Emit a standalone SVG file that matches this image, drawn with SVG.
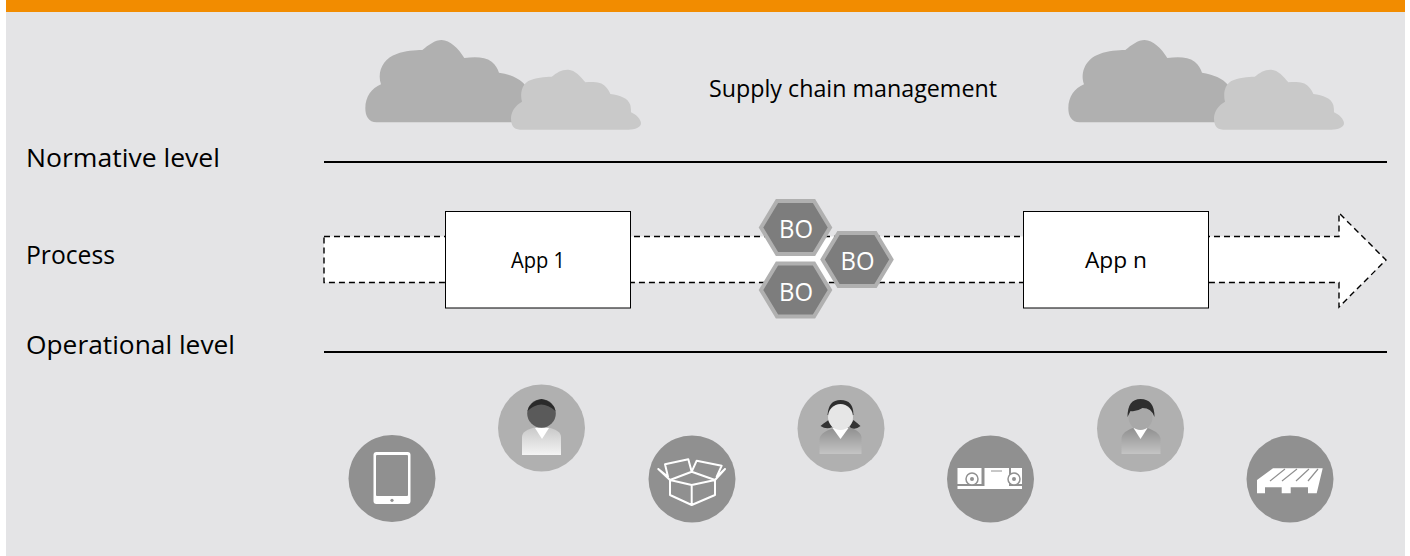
<svg xmlns="http://www.w3.org/2000/svg" xmlns:xlink="http://www.w3.org/1999/xlink" width="1410" height="556" viewBox="0 0 1410 556">
<defs>
<style>
text{font-family:"Open Sans","Noto Sans","Liberation Sans",sans-serif;fill:#000}
.lbl{font-size:26px}
.app{font-size:22px;text-anchor:middle}
.bo{font-size:26px;fill:#fff;text-anchor:middle}
.rule{stroke:#000;stroke-width:2;fill:none}
.hex{fill:#7d7d7d;stroke:#b0b0b0;stroke-width:4;stroke-linejoin:miter}
.box{fill:#fff;stroke:#000;stroke-width:1}
.dk{fill:#909090}
.lt{fill:#b0b0b0}
.ic{fill:none;stroke:#fff;stroke-width:2;stroke-linejoin:round}
</style>
<g id="cloud" transform="translate(350 30) scale(.33333)">
<path fill="#b0b0b0" d="M80 277C55 277 46 258 46 235C46 200 65 175 93 163C80 125 100 85 140 72C165 62 195 60 217 60C235 45 255 30 275 30C300 30 325 55 343 84C375 80 405 80 425 95C437 105 443 115 447 128C480 133 510 145 525 165L525 277Z"/>
<path fill="#c9c9c9" d="M510 299C490 299 483 285 483 265C483 245 497 225 516 215C510 190 515 165 535 153C555 143 585 140 605 140C620 128 635 118 655 119C675 120 692 140 706 157C735 155 755 157 767 170C775 178 778 185 781 192C810 195 835 205 841 225C843 235 843 240 843 247C858 253 873 268 873 280C873 292 855 299 835 299Z"/>
</g>
<path id="hexa" class="hex" d="M-34.500 0L-18.500-26.500H18.500L34.500 0L18.500 26.500H-18.500Z"/>
<linearGradient id="body" x1="0" y1="0" x2="0" y2="1"><stop offset="0" stop-color="#c8c8c8"/><stop offset="1" stop-color="#f4f4f4"/></linearGradient>
<linearGradient id="body2" x1="0" y1="0" x2="0" y2="1"><stop offset="0" stop-color="#8e8e8e"/><stop offset="1" stop-color="#c4c4c4"/></linearGradient>
</defs>
<rect width="1410" height="556" fill="#fff"/>
<rect x="6" y="0" width="1399" height="556" fill="#e4e4e6"/>
<rect x="6" y="0" width="1399" height="12" fill="#f28c00"/>
<g id="clouds"><use xlink:href="#cloud"/><use xlink:href="#cloud" x="703"/></g>
<g id="labels">
<text class="lbl" x="26" y="167" textLength="194" lengthAdjust="spacingAndGlyphs">Normative level</text>
<text class="lbl" x="26" y="264" textLength="89" lengthAdjust="spacingAndGlyphs">Process</text>
<text class="lbl" x="26" y="354" textLength="209" lengthAdjust="spacingAndGlyphs">Operational level</text>
<text x="709" y="97" font-size="23.300" textLength="288" lengthAdjust="spacingAndGlyphs">Supply chain management</text>
</g>
<g id="connectors">
<path class="rule" d="M324 162H1387"/>
<path class="rule" d="M324 352H1387"/>
</g>
<g id="process-arrow"><path d="M324 236.500H1339V213L1386 260L1339 307V282.500H324Z" fill="#fff" stroke="#000" stroke-width="1.400" stroke-dasharray="6 4"/></g>
<g id="app-1"><rect class="box" x="445.500" y="211.500" width="185" height="96.500"/><text class="app" x="538" y="268" textLength="54" lengthAdjust="spacingAndGlyphs">App 1</text></g>
<g id="app-n"><rect class="box" x="1023.500" y="211.500" width="185" height="96.500"/><text class="app" x="1116" y="268" textLength="62" lengthAdjust="spacingAndGlyphs">App n</text></g>
<g id="bo-1"><use xlink:href="#hexa" x="795.500" y="227.500"/><text class="bo" x="796" y="238" textLength="34" lengthAdjust="spacingAndGlyphs">BO</text></g>
<g id="bo-2"><use xlink:href="#hexa" x="857" y="259.500"/><text class="bo" x="857.500" y="269.500" textLength="34" lengthAdjust="spacingAndGlyphs">BO</text></g>
<g id="bo-3"><use xlink:href="#hexa" x="795.500" y="290"/><text class="bo" x="796" y="300.500" textLength="34" lengthAdjust="spacingAndGlyphs">BO</text></g>
<g id="tablet"><circle class="dk" cx="392" cy="478.500" r="43.500"/><rect x="373.500" y="452" width="37" height="52" rx="3" fill="#fff"/><rect x="376" y="455" width="32" height="41" rx="1" fill="#909090"/><circle cx="392" cy="500.300" r="1.600" fill="#909090"/></g>
<g id="person-1"><circle class="lt" cx="541.500" cy="428" r="43.500"/><path d="M522 455V437Q522 430 537 427H546Q561 430 561 437V455Z" fill="url(#body)"/><path d="M535 428H549L542 439Z" fill="#fff"/><circle cx="541.500" cy="413.500" r="14.300" fill="#5a5a5a"/><path d="M527.500 411Q541 398 555.500 411Q553 401 541.500 399Q530 401 527.500 411Z" fill="#2a2a2a"/></g>
<g id="box"><circle class="dk" cx="692" cy="479" r="43.500"/><path class="ic" d="M670 480V495L691.700 505L715 495V480M670 480L691.700 485L715 480L691.700 471.700ZM691.700 485V505M670 480L658.300 469L668 476.700L665 464.300L688.300 459.300L691.700 471.700L696.700 460.700L721.700 465.700L716.700 476.700L725 469L715 480"/></g>
<g id="person-2"><circle class="lt" cx="841" cy="428.500" r="43.500"/><g transform="translate(2.500 0)"><path d="M817 454V439Q818 431 836 427H845Q860 431 859 439V454Z" fill="url(#body2)"/><path d="M830 428H846L838 439Z" fill="#fff"/><path d="M826 420Q820 424 818 426Q824 430 830 427ZM851 420Q856 424 858 426Q852 431 847 427Z" fill="#333"/><path d="M825 415Q826 400 838 400Q851 400 851 415Z" fill="#2e2e2e"/><ellipse cx="838" cy="417" rx="12.500" ry="13" fill="#e6e6e6"/></g></g>
<g id="rollers"><circle class="dk" cx="990.500" cy="479" r="43.500"/><path fill="#fff" d="M957.500 468H981.500V484H957.500ZM984.500 468H1009V486H984.500ZM1011 468H1022V484H1011ZM957.500 486H1022V489H957.500Z"/><circle cx="972" cy="479" r="6" fill="#fff" stroke="#909090" stroke-width="1.500"/><circle cx="972" cy="479" r="2" fill="#909090"/><circle cx="1014" cy="479" r="6" fill="#fff" stroke="#909090" stroke-width="1.500"/><circle cx="1014" cy="479" r="2" fill="#909090"/><path d="M991 471H1002" stroke="#909090"/></g>
<g id="person-3"><circle class="lt" cx="1140.500" cy="428.500" r="43.500"/><g transform="translate(11.500 0)"><path d="M1110 454V438Q1111 431 1124 427H1133Q1147 431 1149 438V454Z" fill="url(#body2)"/><path d="M1122 428H1136L1129 439Z" fill="#fff"/><ellipse cx="1129" cy="417" rx="12" ry="13" fill="#a8a8a8"/><path d="M1116 417Q1116 399 1129 399Q1143 399 1143 417Q1140 408 1131 408Q1125 412 1119 411Z" fill="#2e2e2e"/></g></g>
<g id="pallet"><circle class="dk" cx="1290" cy="479" r="43.500"/><path fill="#fff" d="M1257 480L1273 468.300H1322.700L1316.700 493.300H1308V487.300H1290.700V493.300H1281.700V487.300H1265V493.300H1257Z"/><path d="M1270 481L1285 469M1282 481L1297 469M1296 481L1309 469M1308 481L1318 469" stroke="#909090" stroke-width="1.200"/></g>
</svg>
